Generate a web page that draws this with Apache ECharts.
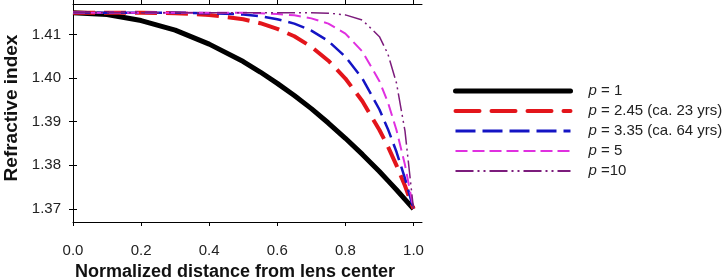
<!DOCTYPE html>
<html>
<head>
<meta charset="utf-8">
<script src="https://cdn.jsdelivr.net/npm/echarts@6/dist/echarts.min.js"></script>
<style>
  html, body { margin: 0; padding: 0; background: #fff; }
  #chart { width: 726px; height: 277px; }
</style>
</head>
<body>
<div id="chart"></div>
<script>
// normalized distance from lens center (x)
const distance = [0, 0.1, 0.2, 0.3, 0.4, 0.5, 0.55, 0.6, 0.65, 0.7, 0.75, 0.8, 0.85, 0.9, 0.925, 0.95, 0.975, 1.0];
// refractive index
const nP1   = [1.415, 1.4146, 1.4132, 1.4110, 1.4078, 1.4038, 1.4014, 1.3988, 1.3960, 1.3930, 1.3897, 1.3862, 1.3825, 1.3786, 1.3765, 1.3744, 1.3722, 1.370];
const nP245 = [1.415, 1.4150, 1.4150, 1.4149, 1.4145, 1.4135, 1.4126, 1.4113, 1.4096, 1.4072, 1.4040, 1.3999, 1.3947, 1.3881, 1.3843, 1.3800, 1.3753, 1.370];
const nP335 = [1.415, 1.4150, 1.4150, 1.4150, 1.4149, 1.4146, 1.4142, 1.4135, 1.4125, 1.4109, 1.4085, 1.4049, 1.3999, 1.3928, 1.3883, 1.3831, 1.3770, 1.370];
const nP5   = [1.415, 1.4150, 1.4150, 1.4150, 1.4150, 1.4150, 1.4149, 1.4147, 1.4144, 1.4137, 1.4125, 1.4102, 1.4061, 1.3993, 1.3944, 1.3881, 1.3801, 1.370];
const nP10  = [1.415, 1.4150, 1.4150, 1.4150, 1.4150, 1.4150, 1.4150, 1.4150, 1.4150, 1.4150, 1.4149, 1.4145, 1.4133, 1.4095, 1.4055, 1.3989, 1.3879, 1.370];
const seriesNames = ['p = 1', 'p = 2.45 (ca. 23 yrs)', 'p = 3.35 (ca. 64 yrs)', 'p = 5', 'p =10'];
const xTicks = [0, 0.2, 0.4, 0.6, 0.8, 1.0];
const yTicks = [1.37, 1.38, 1.39, 1.40, 1.41];

const chart = echarts.init(document.getElementById('chart'));

const pairs = arr => distance.map((x, i) => [x, arr[i]]);

const font = 'Arial, "Liberation Sans", sans-serif';

// line looks per curve (plot and legend)
const lineStyles = [
  { color: '#000000', width: 5, type: 'solid' },
  { color: '#e3151b', width: 4, type: [22, 9] },
  { color: '#1414c4', width: 2.5, type: [17, 7] },
  { color: '#e030e0', width: 2, type: [12, 6] },
  { color: '#7c1c7c', width: 1.5, type: [18, 4, 2, 4, 2, 4] }
];
const legendLineStyles = [
  { color: '#000000', width: 5, type: 'solid', cap: 'round' },
  { color: '#e3151b', width: 4, type: [24, 12], cap: 'round' },
  { color: '#1414c4', width: 3, type: [20, 7] },
  { color: '#e030e0', width: 2, type: [12, 5] },
  { color: '#7c1c7c', width: 2, type: [18, 4, 2, 4, 2, 4] }
];
const curves = [nP1, nP245, nP335, nP5, nP10];

const axisLine = { show: true, lineStyle: { color: '#000', width: 1 } };
const tickStyle = vals => ({ show: true, length: 4, customValues: vals, lineStyle: { color: '#000' } });

const option = {
  animation: false,
  backgroundColor: '#fff',
  grid: { left: 73, right: 304, top: 4, bottom: 55, containLabel: false, outerBoundsMode: 'none' },
  legend: {
    orient: 'vertical',
    left: 448,
    top: 78,
    itemWidth: 115,
    itemHeight: 8,
    itemGap: 4,
    data: seriesNames.map((name, i) => ({
      name: name,
      itemStyle: { color: 'transparent', borderWidth: 0, opacity: 0 },
      lineStyle: legendLineStyles[i]
    })),
    formatter: name => '{i|p}' + name.slice(1),
    textStyle: {
      fontFamily: font,
      fontSize: 15,
      lineHeight: 16,
      color: '#222',
      padding: [0, 0, 0, 13],
      rich: {
        i: { fontFamily: font, fontSize: 15, lineHeight: 16, fontStyle: 'italic', color: '#222' }
      }
    }
  },
  xAxis: [
    {
      type: 'value',
      min: 0,
      max: 1.025,
      position: 'bottom',
      name: 'Normalized distance from lens center',
      nameLocation: 'middle',
      nameGap: 40,
      nameTextStyle: { fontFamily: font, fontSize: 18, fontWeight: 'bold', color: '#111', padding: [0, 25, 0, 0] },
      axisLine: axisLine,
      axisTick: tickStyle(xTicks),
      axisLabel: {
        customValues: xTicks,
        formatter: v => v.toFixed(1),
        fontFamily: font, fontSize: 15, color: '#222', margin: 21
      },
      splitLine: { show: false }
    },
    {
      type: 'value', min: 0, max: 1.025, position: 'top',
      axisLine: axisLine, axisTick: tickStyle(xTicks),
      axisLabel: { show: false }, splitLine: { show: false }
    }
  ],
  yAxis: [
    {
      type: 'value',
      min: 1.367,
      max: 1.417,
      position: 'left',
      name: 'Refractive index',
      nameLocation: 'middle',
      nameGap: 52,
      nameTextStyle: { fontFamily: font, fontSize: 19, fontWeight: 'bold', color: '#111', padding: [0, 0, 0, 10] },
      axisLine: axisLine,
      axisTick: tickStyle(yTicks),
      axisLabel: {
        customValues: yTicks,
        formatter: v => v.toFixed(2),
        fontFamily: font, fontSize: 15, color: '#222', margin: 12
      },
      splitLine: { show: false }
    },
    {
      type: 'value', min: 1.367, max: 1.417, position: 'right',
      axisLine: axisLine, axisTick: tickStyle(yTicks),
      axisLabel: { show: false }, splitLine: { show: false }
    }
  ],
  series: curves.map((arr, i) => ({
    name: seriesNames[i],
    type: 'line',
    symbol: 'none',
    data: pairs(arr),
    lineStyle: lineStyles[i],
    itemStyle: { color: lineStyles[i].color }
  }))
};

chart.setOption(option);
</script>
</body>
</html>
